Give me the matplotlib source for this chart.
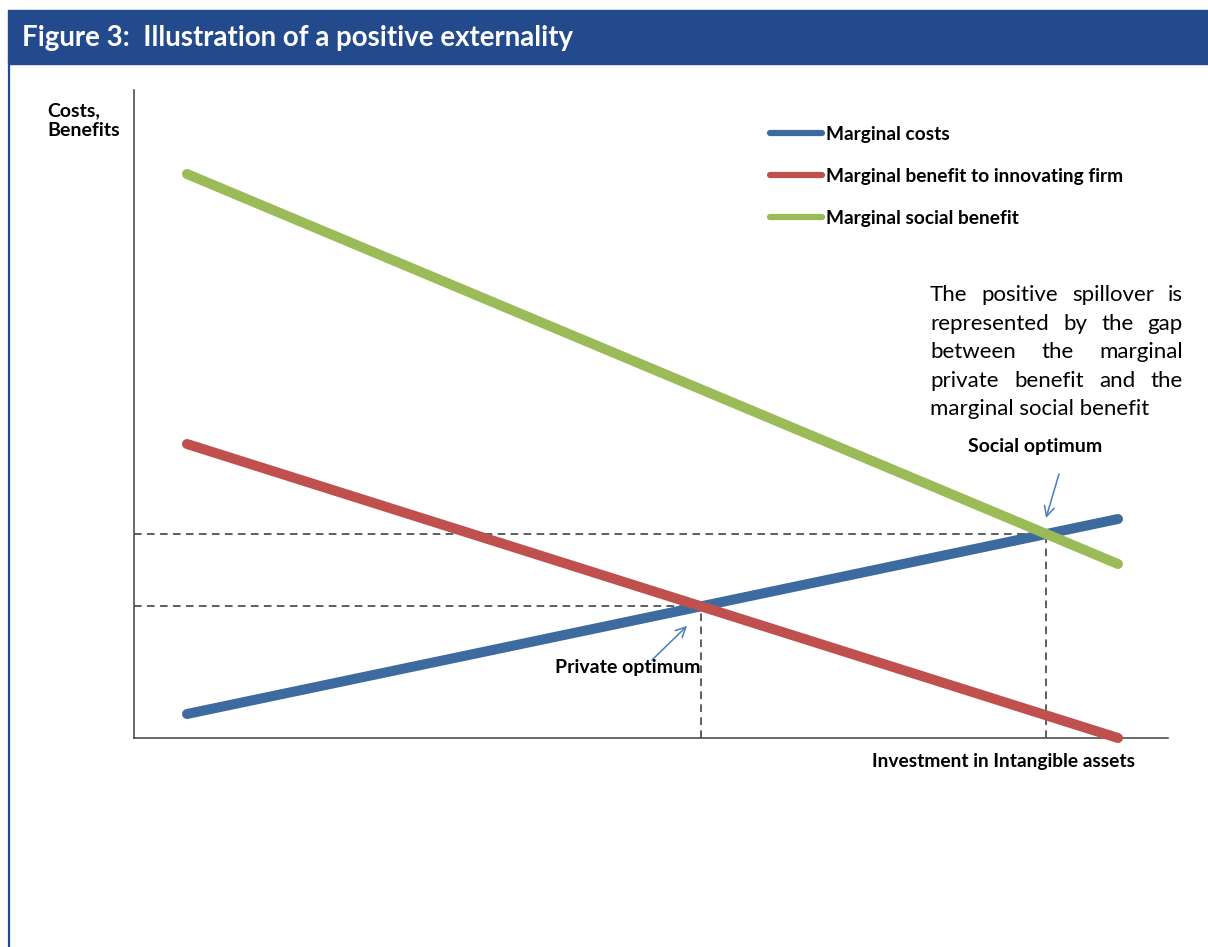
import matplotlib
matplotlib.use("Agg")
import matplotlib.pyplot as plt
import numpy as np
from matplotlib.patches import Rectangle

# curve end points (x = investment, y = costs/benefits, arbitrary units)
x_ends = [0.53, 9.84]
marginal_costs = [0.24, 2.19]
private_benefit = [2.94, 0.00]
social_benefit = [5.64, 1.74]

labels = ["Marginal costs", "Marginal benefit to innovating firm", "Marginal social benefit"]
colors = ["#3E6B9F", "#C0504D", "#9BBB59"]

note_lines = [
    "The positive spillover is",
    "represented by the gap",
    "between the marginal",
    "private benefit and the",
    "marginal social benefit",
]

W, H = 1208, 947
FONT = "Lato"
HEADER = "#244A8E"
ARROW = "#4A7EBB"


def px(x, y):
    # pixel position (from top-left) -> figure fraction
    return x / W, 1 - y / H


def crossing(a, b):
    ma, ca = np.polyfit(x_ends, a, 1)
    mb, cb = np.polyfit(x_ends, b, 1)
    xc = (cb - ca) / (ma - mb)
    return xc, ma * xc + ca


fig = plt.figure(figsize=(W / 100, H / 100), dpi=100)
plt.rcParams["font.family"] = [FONT, "DejaVu Sans"]

# header bar and left border
fig.patches.append(Rectangle(px(8, 64), 1, 54 / H, transform=fig.transFigure,
                             color=HEADER, zorder=0))
fig.add_artist(plt.Line2D([9 / W, 9 / W], [0, 1 - 64 / H], color=HEADER, lw=1.6,
                          transform=fig.transFigure))
fig.text(*px(22, 38), "Figure 3:  Illustration of a positive externality", color="white",
         fontsize=19.9, fontweight="bold", va="center", ha="left")

ax = fig.add_axes([134 / W, 209 / H, (1168 - 134) / W, (738 - 90) / H])
ax.set_xlim(0, 10.34)
ax.set_ylim(0, 6.48)
for s in ["top", "right"]:
    ax.spines[s].set_visible(False)
for s in ["left", "bottom"]:
    ax.spines[s].set_color("#404040")
    ax.spines[s].set_linewidth(1.1)
ax.set_xticks([])
ax.set_yticks([])

handles = []
for ys, c, lab in zip([marginal_costs, private_benefit, social_benefit], colors, labels):
    ln, = ax.plot(x_ends, ys, color=c, lw=7.2, solid_capstyle="round", clip_on=False,
                  label=lab, zorder=3)
    handles.append(ln)

# optimum guides
for a, b in [(marginal_costs, private_benefit), (marginal_costs, social_benefit)]:
    xc, yc = crossing(a, b)
    ax.plot([0, xc], [yc, yc], ls=(0, (5, 3.5)), color="#333333", lw=1.1, zorder=2, clip_on=False)
    ax.plot([xc, xc], [0, yc], ls=(0, (5, 3.5)), color="#333333", lw=1.1, zorder=2, clip_on=False)

arrow = dict(arrowstyle="->", color=ARROW, lw=1.1, mutation_scale=18, shrinkA=0, shrinkB=0)
ax.annotate("", xy=(5.53, 1.12), xytext=(5.18, 0.78), arrowprops=arrow)
ax.annotate("", xy=(9.12, 2.20), xytext=(9.25, 2.64), arrowprops=arrow)

fig.text(*px(628, 668), "Private optimum", fontsize=14, fontweight="bold", ha="center", va="center")
fig.text(*px(1035, 446), "Social optimum", fontsize=14, fontweight="bold", ha="center", va="center")
fig.text(*px(47, 121), "Costs,\nBenefits", fontsize=14, fontweight="bold", ha="left",
         va="center", linespacing=1.2)
fig.text(*px(1135, 762), "Investment in Intangible assets", fontsize=13.8, fontweight="bold",
         ha="right", va="center")

leg = fig.legend(handles=handles, loc="upper left", bbox_to_anchor=px(770, 126), frameon=False,
                 prop=dict(weight="bold", size=13.8), handlelength=2.7, handletextpad=0.2,
                 labelspacing=1.3, borderaxespad=0, borderpad=0)
for h in leg.get_lines():
    h.set_linewidth(4.5)
    h.set_solid_capstyle("round")

# justified note text
renderer = fig.canvas.get_renderer()
left, right = 930, 1183
for i, line in enumerate(note_lines):
    y = 295 + i * 28.5
    words = line.split()
    if i == len(note_lines) - 1:
        fig.text(*px(left, y), line, fontsize=16, ha="left", va="center")
        continue
    texts = [fig.text(*px(left, y), w, fontsize=16, ha="left", va="center") for w in words]
    widths = [t.get_window_extent(renderer).width for t in texts]
    gap = (right - left - sum(widths)) / (len(words) - 1)
    xpos = left
    for t, w in zip(texts, widths):
        t.set_position(px(xpos, y))
        xpos += w + gap

fig.savefig("out.png", dpi=100, facecolor="white")
